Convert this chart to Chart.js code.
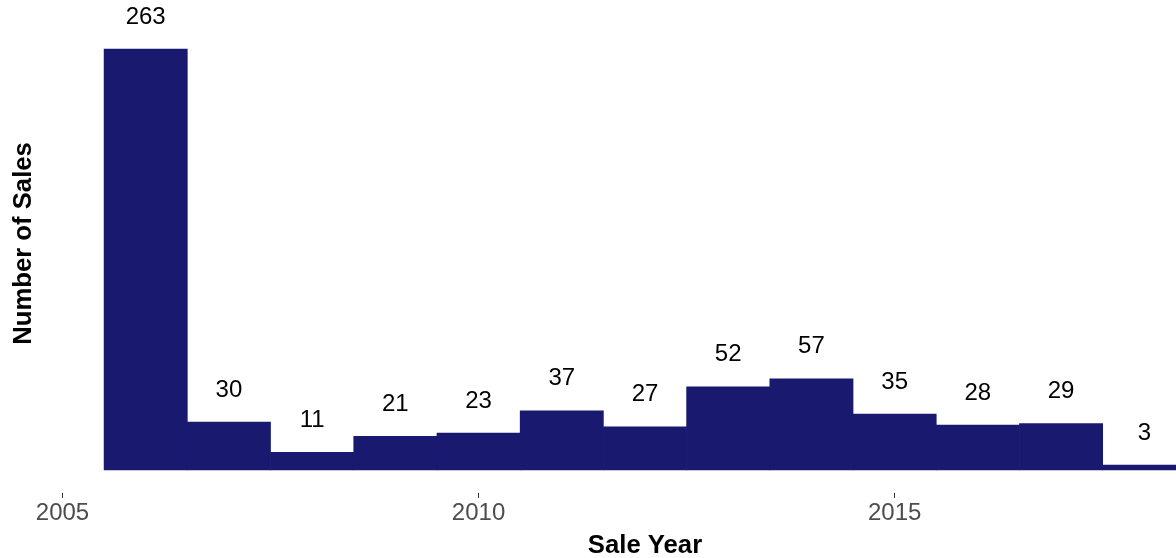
<!DOCTYPE html>
<html>
<head>
<meta charset="utf-8">
<script src="https://cdn.jsdelivr.net/npm/chart.js@4.4.1/dist/chart.umd.min.js"></script>
<style>
  html, body { margin: 0; padding: 0; background: #ffffff; overflow: hidden; }
  #wrap { position: absolute; left: 0; top: -6px; width: 1240px; height: 567px; }
</style>
</head>
<body>
<div id="wrap"><canvas id="chart" width="1240" height="567"></canvas></div>
<script>
// Sales counted per sale year
const saleYears = [2006, 2007, 2008, 2009, 2010, 2011, 2012, 2013, 2014, 2015, 2016, 2017, 2018];
const salesCounts = [263, 30, 11, 21, 23, 37, 27, 52, 57, 35, 28, 29, 3];
const xTickValues = [2005, 2010, 2015];

const barColor = '#191970';
const FONT = '"Liberation Sans", Arial, Helvetica, sans-serif';

// Count labels placed above each bar
const countLabels = {
  id: 'countLabels',
  afterDatasetsDraw(chart) {
    const { ctx, scales: { x, y } } = chart;
    ctx.save();
    ctx.font = '24px ' + FONT;
    ctx.fillStyle = '#000000';
    ctx.textAlign = 'center';
    ctx.textBaseline = 'middle';
    saleYears.forEach((yr, i) => {
      const px = x.getPixelForValue(yr);
      const py = y.getPixelForValue(salesCounts[i]) - 32;
      ctx.fillText(String(salesCounts[i]), px, py);
    });
    ctx.restore();
  }
};

new Chart(document.getElementById('chart'), {
  type: 'bar',
  data: {
    datasets: [{
      label: 'Number of Sales',
      data: saleYears.map((yr, i) => ({ x: yr, y: salesCounts[i] })),
      backgroundColor: barColor,
      borderWidth: 0,
      barPercentage: 1.0,
      categoryPercentage: 1.0
    }]
  },
  options: {
    responsive: false,
    animation: false,
    devicePixelRatio: 1,
    layout: { padding: 0 },
    plugins: {
      legend: { display: false },
      tooltip: { enabled: false }
    },
    scales: {
      x: {
        type: 'linear',
        offset: false,
        min: 2004.85,
        max: 2019.15,
        afterBuildTicks: (scale) => { scale.ticks = xTickValues.map(v => ({ value: v })); },
        afterFit: (scale) => { scale.height = 68; },
        grid: {
          display: true,
          offset: false,
          drawOnChartArea: false,
          drawTicks: true,
          tickLength: 5,
          tickWidth: 1,
          tickColor: '#333333'
        },
        border: { display: false },
        ticks: {
          padding: 1,
          color: '#4d4d4d',
          font: { family: FONT, size: 24 },
          maxRotation: 0,
          callback: (v) => String(v)
        },
        title: {
          display: true,
          text: 'Sale Year',
          color: '#000000',
          font: { family: FONT, size: 25.7, weight: 'bold' },
          padding: { top: 0, bottom: 0 }
        }
      },
      y: {
        min: -14.375,
        max: 297.5,
        afterFit: (scale) => { scale.width = 50; },
        grid: { display: false },
        border: { display: false },
        ticks: { display: false },
        title: {
          display: true,
          text: 'Number of Sales',
          color: '#000000',
          font: { family: FONT, size: 25.7, weight: 'bold' },
          padding: { top: 8, bottom: 0 }
        }
      }
    }
  },
  plugins: [countLabels]
});
</script>
</body>
</html>
